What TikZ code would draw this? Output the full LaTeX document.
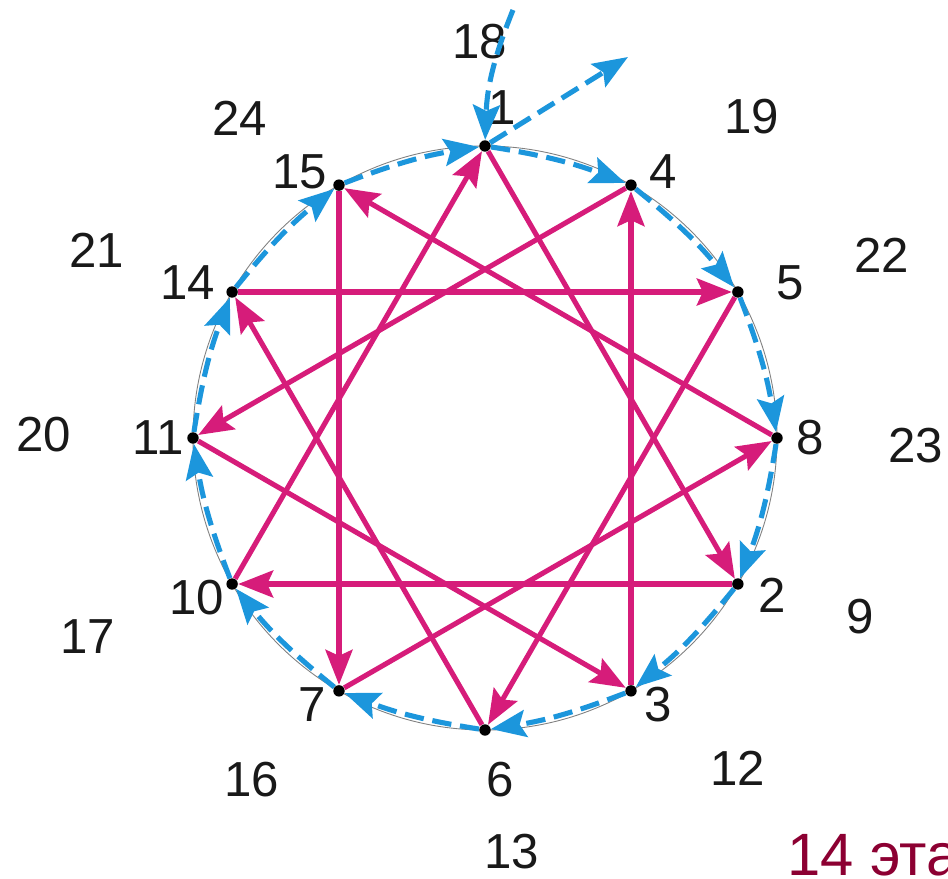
\documentclass[tikz,border=0pt]{standalone}
\usepackage{fontspec}
\setmainfont{Liberation Sans}
\usepackage{tikz}
\usetikzlibrary{positioning,arrows.meta}
\definecolor{rose}{RGB}{214,28,122}
\definecolor{sky}{RGB}{28,150,220}
\definecolor{wine}{RGB}{140,0,50}

\begin{document}
\begin{tikzpicture}[>={Stealth[length=7mm,width=5.4mm,inset=1.2mm]},
  pt/.style={circle,fill=black,inner sep=0pt,minimum size=6.5pt},
  num/.style={font=\fontsize{28}{28}\selectfont,text=black!90},
  chord/.style={->,rose,line width=2.9pt},
  hop/.style={->,sky,line width=2.9pt,dash pattern=on 11pt off 5pt}]
\useasboundingbox (-9.70,-8.82) rectangle (9.26,8.76);
\draw[gray,line width=0.5pt] (0,0) circle (5.84);
% points on the circle
\node[pt] (n1) at (90:5.84) {};
\node[pt] (n4) at (60:5.84) {};
\node[pt] (n5) at (30:5.84) {};
\node[pt] (n8) at (0:5.84) {};
\node[pt] (n2) at (-30:5.84) {};
\node[pt] (n3) at (-60:5.84) {};
\node[pt] (n6) at (-90:5.84) {};
\node[pt] (n7) at (-120:5.84) {};
\node[pt] (n10) at (-150:5.84) {};
\node[pt] (n11) at (180:5.84) {};
\node[pt] (n14) at (150:5.84) {};
\node[pt] (n15) at (120:5.84) {};
% their numbers
\node[num] (l1) at (0.34,6.60) {1};
\node[num] (l4) at (3.56,5.32) {4};
\node[num] (l5) at (6.10,3.10) {5};
\node[num] (l8) at (6.50,0) {8};
\node[num] (l2) at (5.74,-3.14) {2};
\node[num] (l3) at (3.46,-5.34) {3};
\node[num] (l6) at (0.30,-6.84) {6};
\node[num] (l7) at (-3.46,-5.34) {7};
\node[num] (l10) at (-5.76,-3.20) {10};
\node[num] (l11) at (-6.54,0) {11};
\node[num] (l14) at (-5.94,3.10) {14};
\node[num] (l15) at (-3.70,5.32) {15};
% outer numbers
\node[num] (o18) at (-0.10,7.92) {18};
\node[num] (o19) at (5.34,6.42) {19};
\node[num] (o22) at (7.94,3.66) {22};
\node[num] (o23) at (8.62,-0.16) {23};
\node[num] (o9) at (7.50,-3.58) {9};
\node[num] (o12) at (5.06,-6.60) {12};
\node[num] (o13) at (0.54,-8.28) {13};
\node[num] (o16) at (-4.66,-6.84) {16};
\node[num] (o17) at (-7.94,-3.98) {17};
\node[num] (o20) at (-8.82,0.06) {20};
\node[num] (o21) at (-7.76,3.76) {21};
\node[num] (o24) at (-4.90,6.40) {24};
\node[anchor=base west,inner sep=0pt,text=wine,font=\fontsize{34}{34}\selectfont] (stage) at (6.04,-8.74) {14 эта};
% triangles
\draw[chord] (n1) -- (n2);
\draw[chord] (n2) -- (n10);
\draw[chord] (n10) -- (n1);
\draw[chord] (n3) -- (n4);
\draw[chord] (n4) -- (n11);
\draw[chord] (n11) -- (n3);
\draw[chord] (n5) -- (n6);
\draw[chord] (n6) -- (n14);
\draw[chord] (n14) -- (n5);
\draw[chord] (n7) -- (n8);
\draw[chord] (n8) -- (n15);
\draw[chord] (n15) -- (n7);
% round the circle
\coordinate (in) at (0.56,8.56);
\coordinate (out) at (2.86,7.62);
\draw[hop] (in) to[bend right=10] (n1);
\draw[hop] (n1) -- (out);
\draw[hop] (n1) to[bend left=6] (n4);
\draw[hop] (n4) to[bend left=6] (n5);
\draw[hop] (n5) to[bend left=6] (n8);
\draw[hop] (n8) to[bend left=6] (n2);
\draw[hop] (n2) to[bend left=6] (n3);
\draw[hop] (n3) to[bend left=6] (n6);
\draw[hop] (n6) to[bend left=6] (n7);
\draw[hop] (n7) to[bend left=6] (n10);
\draw[hop] (n10) to[bend left=6] (n11);
\draw[hop] (n11) to[bend left=6] (n14);
\draw[hop] (n14) to[bend left=6] (n15);
\draw[hop] (n15) to[bend left=6] (n1);
\end{tikzpicture}
\end{document}
